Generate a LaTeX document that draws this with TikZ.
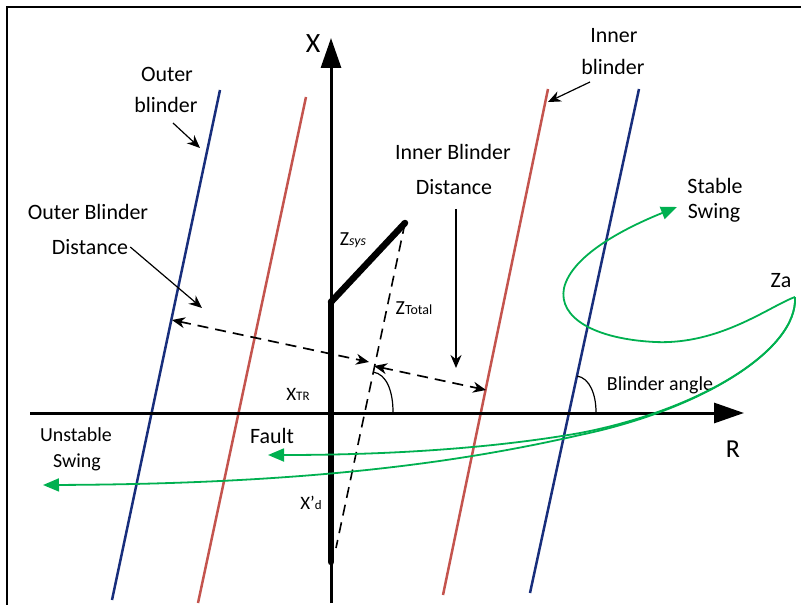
\documentclass[tikz,border=0pt]{standalone}
\usepackage{fontspec}
\setmainfont{Carlito}
\usetikzlibrary{arrows.meta}
\definecolor{bblue}{RGB}{24,46,124}
\definecolor{bred}{RGB}{196,84,78}
\definecolor{bgreen}{RGB}{0,176,80}
\begin{document}
\begin{tikzpicture}[x=1bp,y=-1bp,
  lbl/.style={font=\fontsize{22}{26}\selectfont, inner sep=0pt},
  slbl/.style={font=\fontsize{20}{24}\selectfont, inner sep=0pt},
  axisline/.style={line width=3bp, -{Triangle[length=30bp,width=20bp]}},
  thickline/.style={line width=6.5bp, line cap=round},
  blueblinder/.style={bblue, line width=2.5bp},
  redblinder/.style={bred, line width=2.5bp},
  ptr/.style={line width=1.2bp, -{Stealth[length=13bp,width=11bp]}},
  distarrow/.style={line width=1.7bp, dash pattern=on 11bp off 7bp, {Stealth[length=13bp,width=11bp]}-{Stealth[length=13bp,width=11bp]}},
  swing/.style={bgreen, line width=1.8bp, -{Triangle[length=16bp,width=13bp]}},
  anglearc/.style={line width=1.2bp}
]
\useasboundingbox (0,0) rectangle (801,605);
% frame (left and top)
\draw[line width=2.2bp] (7,605) -- (7,7) -- (801,7);

% coordinates
\coordinate (xbot) at (331,603);
\coordinate (xtop) at (331,38);
\coordinate (rleft) at (30,413);
\coordinate (rright) at (744,413);
\coordinate (origin) at (331,413);
\coordinate (thtop) at (331,302);
\coordinate (thbot) at (331,562);
\coordinate (zs) at (405,223);
\coordinate (zend) at (336,548);
\coordinate (ob1) at (220,90);   \coordinate (ob2) at (112,600);
\coordinate (or1) at (306,97);   \coordinate (or2) at (198,603);
\coordinate (ir1) at (548,89);   \coordinate (ir2) at (443,595);
\coordinate (ib1) at (639,89);   \coordinate (ib2) at (530,593);

% blinders
\draw[blueblinder] (ob1) -- (ob2);
\draw[redblinder] (or1) -- (or2);
\draw[redblinder] (ir1) -- (ir2);
\draw[blueblinder] (ib1) -- (ib2);

% axes
\draw[axisline] (rleft) -- (rright);
\draw[axisline] (xbot) -- (xtop);

% thick impedance segments
\draw[thickline] (thbot) -- (thtop);
\draw[thickline] (thtop) -- (zs);
\draw[line width=1.6bp, dash pattern=on 11bp off 7bp] (zs) -- (zend);

% angle arcs
\draw[anglearc] (373,372) .. controls (387,374) and (393,392) .. (393,412);
\draw[anglearc] (577,376) .. controls (590,378) and (596,395) .. (596,412);

% distance arrows
\coordinate (pob) at (172,320);
\coordinate (pz1) at (369,362);
\coordinate (pz2) at (374,366);
\coordinate (pib) at (486,390);
\draw[distarrow] (pob) -- (pz1);
\draw[distarrow] (pz2) -- (pib);

% labels
\node[font=\fontsize{28}{30}\selectfont, inner sep=0pt] (lx) at (313,44) {X};
\node[font=\fontsize{26}{30}\selectfont, inner sep=0pt] (lr) at (733,449) {R};
\node[lbl] (outer1) at (167,74) {Outer};
\node[lbl] (outer2) at (166,105) {blinder};
\node[lbl] (inner1) at (614,36) {Inner};
\node[lbl] (inner2) at (613,67) {blinder};
\node[lbl] (obd1) at (88,212) {Outer Blinder};
\node[lbl] (obd2) at (90,247) {Distance};
\node[lbl] (ibd1) at (453,152) {Inner Blinder};
\node[lbl] (ibd2) at (454,187) {Distance};
\node[lbl] (st1) at (715,186) {Stable};
\node[lbl] (st2) at (714,213) {Swing};
\node[lbl] (za) at (781,281) {Za};
\node[slbl] (us1) at (76,435) {Unstable};
\node[slbl] (us2) at (77,462) {Swing};
\node[lbl] (fault) at (272,436) {Fault};
\node[slbl] (ba) at (660,385) {Blinder angle};
\node[font=\fontsize{20}{24}\selectfont, inner sep=0pt] (zsys) at (353,240) {Z{\fontsize{14}{14}\selectfont\itshape sys}};
\node[font=\fontsize{20}{24}\selectfont, inner sep=0pt] (ztot) at (414,308) {Z{\fontsize{14}{14}\selectfont Total}};
\node[font=\fontsize{19}{24}\selectfont, inner sep=0pt] (xtr) at (298,394) {X{\fontsize{13}{13}\selectfont TR}};
\node[font=\fontsize{19}{24}\selectfont, inner sep=0pt] (xd) at (311,503) {X'{\fontsize{13}{13}\selectfont d}};

% pointer arrows
\coordinate (a1s) at (173,123); \coordinate (a1e) at (200,148);
\coordinate (a2e) at (202,308);
\coordinate (a3s) at (456,209); \coordinate (a3e) at (456,368);
\coordinate (a4s) at (590,82);  \coordinate (a4e) at (548,102);
\draw[ptr] (a1s) -- (a1e);
\draw[ptr] (obd2.east) ++(2,0) -- (a2e);
\draw[ptr] (a3s) -- (a3e);
\draw[ptr] (a4s) -- (a4e);

% swing trajectories
\coordinate (zap) at (795,297);
\coordinate (stab) at (677,207);
\coordinate (flt) at (268,455);
\coordinate (unst) at (43,485);
\draw[swing] (zap) .. controls (770,306) and (720,345) .. (655,342)
  .. controls (595,339) and (558,318) .. (564,288)
  .. controls (572,255) and (625,228) .. (stab);
\draw[swing] (zap) .. controls (798,350) and (700,410) .. (580,433)
  .. controls (500,447) and (400,455) .. (flt);
\draw[swing] (zap) .. controls (798,350) and (700,410) .. (580,435)
  .. controls (470,460) and (320,484) .. (unst);
\end{tikzpicture}
\end{document}
